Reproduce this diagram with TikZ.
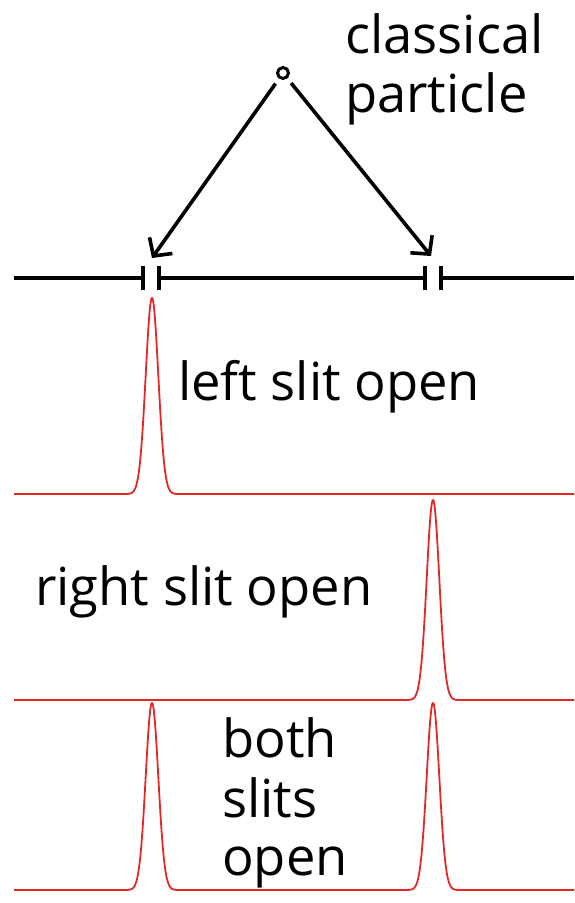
\documentclass[tikz,border=0pt]{standalone}
\usepackage{fontspec}
\setmainfont{Open Sans}
\usetikzlibrary{arrows.meta}
\definecolor{curvered}{RGB}{228,40,40}
\begin{document}
\begin{tikzpicture}[x=1pt,y=-1pt,
  lbl/.style={anchor=base west,inner sep=0pt,font=\fontsize{52.5}{60}\selectfont},
  bar/.style={line width=3.8pt,black},
  arr/.style={line width=3.6pt,black,-{Straight Barb[length=13pt,width=28pt,line width=3.6pt]},shorten <=6pt},
  redcurve/.style={curvered,line width=1.8pt,line join=round}]
\useasboundingbox (0,0) rectangle (574,903);
% particle
\node[circle,draw,line width=3pt,minimum size=11pt,inner sep=0pt] (p) at (283,73) {};
\node[lbl] (t1) at (345,53) {classical};
\node[lbl] (t2) at (345,112) {particle};
% slit coordinates
\coordinate (al) at (152,258);
\coordinate (ar) at (431,256);
\draw[arr] (p) -- (al);
\draw[arr] (p) -- (ar);
% barrier
\draw[bar] (14,278) -- (143,278);
\draw[bar] (143,266) -- (143,290);
\draw[bar] (159,266) -- (159,290);
\draw[bar] (159,278) -- (425,278);
\draw[bar] (425,266) -- (425,290);
\draw[bar] (441,266) -- (441,290);
\draw[bar] (441,278) -- (574,278);
% panel 1: left slit
\draw[redcurve] (14,494) -- (120,494)
  -- plot[domain=120:184,samples=160] (\x,{494-196*exp(-0.5*((\x-152)/6.3)^2)})
  -- (574,494);
\node[lbl] (t3) at (178,400) {left slit open};
% panel 2: right slit
\draw[redcurve] (14,700) -- (401,700)
  -- plot[domain=401:465,samples=160] (\x,{700-200*exp(-0.5*((\x-433)/6.3)^2)})
  -- (574,700);
\node[lbl] (t4) at (35,605) {right slit open};
% panel 3: both slits
\draw[redcurve] (14,890) -- (120,890)
  -- plot[domain=120:184,samples=160] (\x,{890-187*exp(-0.5*((\x-152)/6.3)^2)})
  -- (401,890)
  -- plot[domain=401:465,samples=160] (\x,{890-187*exp(-0.5*((\x-433)/6.3)^2)})
  -- (574,890);
\node[lbl] (t5) at (222,757) {both};
\node[lbl] (t6) at (222,817) {slits};
\node[lbl] (t7) at (222,875) {open};
\end{tikzpicture}
\end{document}
